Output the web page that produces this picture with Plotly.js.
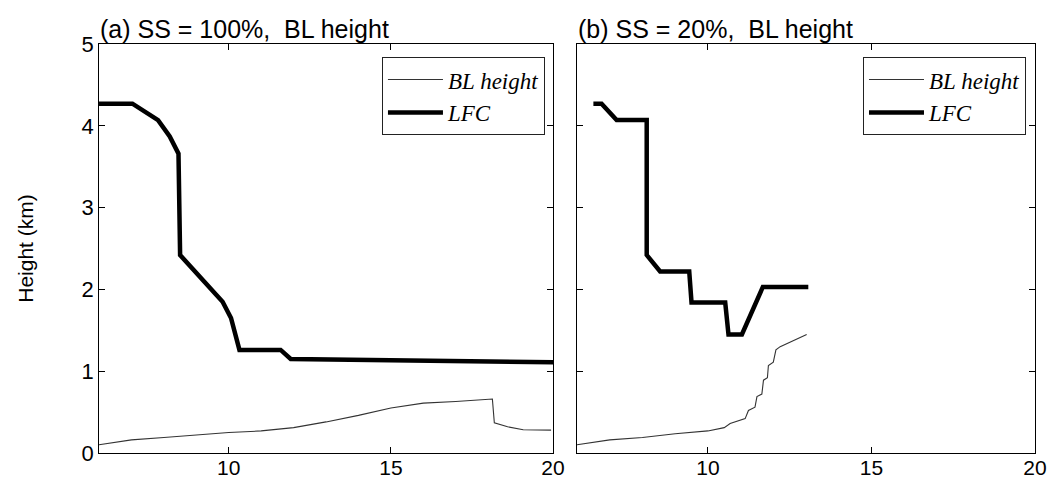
<!DOCTYPE html>
<html>
<head>
<meta charset="utf-8">
<script src="https://cdn.plot.ly/plotly-3.0.1.min.js"></script>
<style>html,body{margin:0;padding:0;background:#fff;}#chart{width:1048px;height:480px;}</style>
</head>
<body>
<div id="chart"></div>
<script>
// Panel (a): SS = 100%
const blXA = [6, 7, 8, 9, 10, 11, 12, 13, 14, 15, 15.5, 16, 17, 18, 18.13, 18.19, 18.6, 19.08, 19.94];
const blYA = [0.10, 0.16, 0.19, 0.22, 0.25, 0.27, 0.31, 0.38, 0.46, 0.55, 0.58, 0.61, 0.63, 0.65, 0.66, 0.37, 0.32, 0.285, 0.28];
const lfcXA = [6, 7.03, 7.82, 8.18, 8.45, 8.5, 9.81, 10.07, 10.33, 11.6, 11.91, 20];
const lfcYA = [4.27, 4.27, 4.07, 3.87, 3.66, 2.42, 1.85, 1.65, 1.26, 1.26, 1.15, 1.11];

// Panel (b): SS = 20%
const blXB = [6, 7, 8, 9, 10, 10.5, 10.68, 11.14, 11.24, 11.44, 11.5, 11.65, 11.7, 11.82, 11.85, 12.0, 12.08, 12.21, 13.02];
const blYB = [0.10, 0.16, 0.19, 0.235, 0.27, 0.31, 0.36, 0.42, 0.52, 0.56, 0.69, 0.72, 0.89, 0.92, 1.07, 1.11, 1.26, 1.30, 1.45];
const lfcXB = [6.5, 6.75, 7.21, 8.13, 8.13, 8.54, 9.43, 9.5, 10.53, 10.63, 11.04, 11.68, 13.07];
const lfcYB = [4.27, 4.27, 4.07, 4.07, 2.42, 2.22, 2.22, 1.84, 1.84, 1.45, 1.45, 2.03, 2.03];

const xTicks = [10, 15, 20];
const yTicks = [0, 1, 2, 3, 4, 5];
const titles = ["(a) SS = 100%,  BL height", "(b) SS = 20%,  BL height"];
const names = ["<i>BL height</i>", "<i>LFC</i>"];

const thin = {color: '#333', width: 1.1};
const thick = {color: '#000', width: 4.5};

const data = [
  {x: blXA, y: blYA, mode: 'lines', line: thin, name: names[0], xaxis: 'x', yaxis: 'y', legend: 'legend'},
  {x: lfcXA, y: lfcYA, mode: 'lines', line: thick, name: names[1], xaxis: 'x', yaxis: 'y', legend: 'legend'},
  {x: blXB, y: blYB, mode: 'lines', line: thin, name: names[0], xaxis: 'x2', yaxis: 'y2', legend: 'legend2'},
  {x: lfcXB, y: lfcYB, mode: 'lines', line: thick, name: names[1], xaxis: 'x2', yaxis: 'y2', legend: 'legend2'}
];

const tickFont = {family: 'Liberation Sans, Arial, sans-serif', size: 22, color: '#000'};
const xTickFont = {family: 'Liberation Sans, Arial, sans-serif', size: 21, color: '#000'};
function xax(dom, anchor) {
  return {domain: dom, anchor: anchor, range: [6, 20], tickvals: xTicks, ticks: 'inside', ticklen: 6,
    tickcolor: '#000', mirror: 'ticks', showline: true, linecolor: '#000', linewidth: 1,
    showgrid: false, zeroline: false, tickfont: xTickFont, ticklabelstandoff: -4, fixedrange: true};
}
function yax(anchor, labels) {
  return {domain: [0.05625, 0.9083], anchor: anchor, range: [0, 5], tickvals: yTicks, ticks: 'inside', ticklen: 6,
    tickcolor: '#000', mirror: 'ticks', showline: true, linecolor: '#000', linewidth: 1,
    showgrid: false, zeroline: false, tickfont: tickFont, showticklabels: labels, fixedrange: true};
}
const legFont = {family: 'Liberation Serif, Times New Roman, serif', size: 23, color: '#000'};
const layout = {
  width: 1048, height: 480,
  margin: {l: 0, r: 0, t: 0, b: 0},
  paper_bgcolor: '#fff', plot_bgcolor: '#fff',
  showlegend: true,
  xaxis: xax([0.0945, 0.5277], 'y'),
  yaxis: Object.assign(yax('x', true), {title: {text: 'Height (km)', font: {family: 'Liberation Sans, Arial, sans-serif', size: 21, color: '#000'}, standoff: 42}}),
  xaxis2: xax([0.5506, 0.9876], 'y2'),
  yaxis2: yax('x2', false),
  legend: {x: 0.52, y: 0.881, xanchor: 'right', yanchor: 'top', bordercolor: '#222', borderwidth: 1,
    bgcolor: '#fff', font: legFont, tracegroupgap: 0, itemwidth: 55},
  legend2: {x: 0.979, y: 0.881, xanchor: 'right', yanchor: 'top', bordercolor: '#222', borderwidth: 1,
    bgcolor: '#fff', font: legFont, tracegroupgap: 0, itemwidth: 55},
  annotations: [
    {text: titles[0], xref: 'paper', yref: 'paper', x: 0.0935, y: 0.94, xanchor: 'left', yanchor: 'middle', showarrow: false,
      font: {family: 'Liberation Sans, Arial, sans-serif', size: 25, color: '#000'}},
    {text: titles[1], xref: 'paper', yref: 'paper', x: 0.5496, y: 0.94, xanchor: 'left', yanchor: 'middle', showarrow: false,
      font: {family: 'Liberation Sans, Arial, sans-serif', size: 25, color: '#000'}}
  ]
};
Plotly.newPlot('chart', data, layout, {displayModeBar: false, staticPlot: true});
</script>
</body>
</html>
